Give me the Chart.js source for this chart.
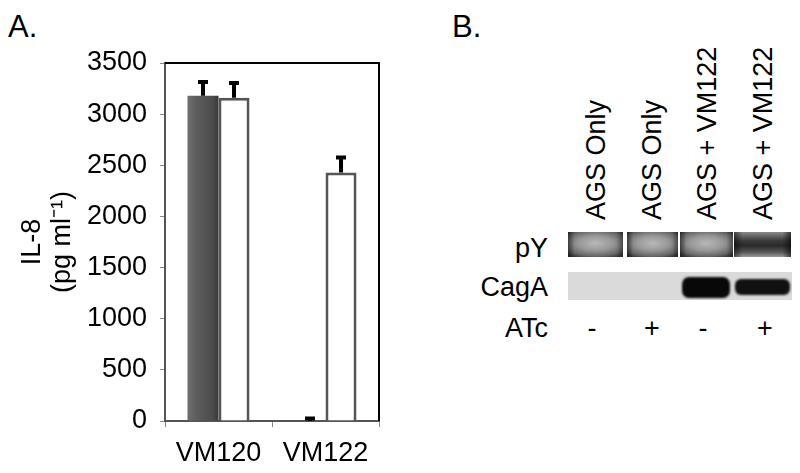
<!DOCTYPE html>
<html>
<head>
<meta charset="utf-8">
<script src="https://cdn.jsdelivr.net/npm/chart.js@4"></script>
<style>
  html, body { margin: 0; padding: 0; background: #fff; }
  body { width: 800px; height: 473px; position: relative; overflow: hidden;
         font-family: 'Liberation Sans', Arial, sans-serif; color: #000; }
  #wrapA { position: absolute; left: 0; top: 0; width: 400px; height: 473px; }
  .t { position: absolute; font-size: 27px; line-height: 30px; white-space: nowrap; }
  .panel { position: absolute; font-size: 31px; line-height: 31px; }
  .lane { position: absolute; font-size: 27px; line-height: 30px; white-space: nowrap;
          transform-origin: 0 0; }
  .blot { position: absolute; }
</style>
</head>
<body>
<div class="panel" style="left:8px; top:11px;">A.</div>
<div class="panel" style="left:452px; top:11px;">B.</div>
<div id="wrapA"><canvas id="il8Chart" width="400" height="473"></canvas></div>
<div id="panelB"></div>

<script>
// panel A data
const categories = ['VM120', 'VM122'];
const darkValues = [3180, 0];
const darkErrors = [135, 25];
const whiteValues = [3160, 2430];
const whiteErrors = [145, 145];
const yTicks = [0, 500, 1000, 1500, 2000, 2500, 3000, 3500];

// panel B labels
const laneLabels = ['AGS Only', 'AGS Only', 'AGS + VM122', 'AGS + VM122'];
const rowLabels = ['pY', 'CagA', 'ATc'];
const atcSigns = ['-', '+', '-', '+'];

const catPct = 0.58;
Chart.defaults.font.family = "'Liberation Sans', Arial, sans-serif";
Chart.defaults.color = '#000';

// 深色柱子的渐变
function darkFill(c) {
  const chart = c.chart;
  const xs = chart.scales.x;
  if (!xs || c.dataIndex === undefined) return '#555';
  const center = xs.getPixelForValue(c.dataIndex);
  const gw = (xs.width / categories.length) * catPct;
  if (!Number.isFinite(center) || !Number.isFinite(gw) || gw <= 0) return '#555';
  const g = chart.ctx.createLinearGradient(center - gw / 2, 0, center, 0);
  g.addColorStop(0, '#707070');
  g.addColorStop(0.3, '#5c5c5c');
  g.addColorStop(0.8, '#4c4c4c');
  g.addColorStop(1, '#383838');
  return g;
}

const errorBars = {
  id: 'errorBars',
  afterDatasetsDraw(chart) {
    const ctx = chart.ctx;
    const y = chart.scales.y;
    const errs = [darkErrors, whiteErrors];
    ctx.save();
    ctx.strokeStyle = '#000';
    ctx.lineWidth = 4;
    chart.data.datasets.forEach((ds, i) => {
      chart.getDatasetMeta(i).data.forEach((el, j) => {
        const top = y.getPixelForValue(ds.data[j] + errs[i][j]);
        const base = y.getPixelForValue(ds.data[j]);
        ctx.beginPath();
        ctx.moveTo(el.x, base);
        ctx.lineTo(el.x, top);
        ctx.moveTo(el.x - 5, top);
        ctx.lineTo(el.x + 5, top);
        ctx.stroke();
      });
    });
    ctx.restore();
  }
};

const frameBox = {
  id: 'frameBox',
  afterDraw(chart) {
    const {ctx, chartArea: a} = chart;
    ctx.save();
    ctx.strokeStyle = '#000';
    ctx.lineWidth = 2;
    ctx.beginPath();
    ctx.moveTo(a.left, a.top);
    ctx.lineTo(a.right, a.top);
    ctx.lineTo(a.right, a.bottom);
    ctx.stroke();
    ctx.restore();
  }
};

new Chart(document.getElementById('il8Chart').getContext('2d'), {
  type: 'bar',
  data: {
    labels: categories,
    datasets: [{
      data: darkValues,
      backgroundColor: darkFill,
      borderWidth: 0,
      categoryPercentage: catPct,
      barPercentage: 1
    }, {
      data: whiteValues,
      backgroundColor: '#fff',
      borderColor: '#555',
      borderWidth: 3,
      categoryPercentage: catPct,
      barPercentage: 1
    }]
  },
  options: {
    responsive: false,
    animation: false,
    layout: { padding: { top: 63, right: 21, left: 0, bottom: 0 } },
    plugins: { legend: { display: false }, tooltip: { enabled: false } },
    scales: {
      x: {
        grid: { drawOnChartArea: false, drawTicks: true, tickLength: 6, color: '#888', offset: true },
        border: { color: '#555', width: 2 },
        ticks: { font: { size: 27 }, padding: 10, color: '#000' },
        afterFit(s) { s.height = 52; }
      },
      y: {
        min: 0,
        max: 3500,
        afterBuildTicks(s) { s.ticks = yTicks.map(v => ({ value: v })); },
        grid: { drawOnChartArea: false, drawTicks: true, tickLength: 5, color: '#888' },
        border: { color: '#555', width: 2 },
        ticks: { font: { size: 27 }, padding: 13, color: '#000', callback: v => String(v) },
        title: {
          display: true,
          text: ['IL-8', '(pg ml\u207B\u00B9)'],
          font: { size: 27, lineHeight: 1.11 },
          padding: { top: 18, bottom: 0 },
          color: '#000'
        },
        afterFit(s) { s.width = 165; }
      }
    }
  },
  plugins: [errorBars, frameBox]
});

// panel B: 印迹图和标签
const pb = document.getElementById('panelB');
function add(html) { pb.insertAdjacentHTML('beforeend', html); }

const laneX = [596, 652, 707, 763];
laneLabels.forEach((t, i) => {
  add(`<div class="lane" style="left:${laneX[i]}px; top:220px; transform: translate(-15px,0) rotate(-90deg);">${t}</div>`);
});

const rowTops = [233, 272, 313];
rowLabels.forEach((t, i) => {
  add(`<div class="t" style="right:${800 - 548}px; top:${rowTops[i]}px; text-align:right;">${t}</div>`);
});
atcSigns.forEach((t, i) => {
  const cx = [592, 652, 703, 765][i];
  add(`<div class="t" style="left:${cx - 15}px; width:30px; text-align:center; top:313px;">${t}</div>`);
});

// pY lanes
const pyLanes = [[568, 623], [627, 678], [680, 733], [734, 791]];
pyLanes.forEach(([x0, x1], i) => {
  const bg = i === 3
    ? 'linear-gradient(to right, rgba(0,0,0,0.5), rgba(0,0,0,0) 15%, rgba(0,0,0,0) 85%, rgba(0,0,0,0.6)), linear-gradient(to bottom, #8a8a8a 0%, #3a3a3a 35%, #2a2a2a 55%, #555 80%, #9a9a9a 100%)'
    : 'linear-gradient(to right, rgba(0,0,0,0.45), rgba(0,0,0,0) 12%, rgba(0,0,0,0) 88%, rgba(0,0,0,0.35)), radial-gradient(ellipse 70% 65% at 50% 45%, #b8b8b8 0%, #989898 45%, #666 80%, #383838 100%)';
  add(`<div class="blot" style="left:${x0}px; top:232px; width:${x1 - x0}px; height:25px; background:${bg}; filter: blur(0.7px);"></div>`);
});

// CagA strip
add(`<div class="blot" style="left:568px; top:272px; width:224px; height:28px; background:#dadada;"></div>`);
add(`<div class="blot" style="left:682px; top:277px; width:48px; height:21px; background:#080808; border-radius:7px; filter: blur(1px);"></div>`);
add(`<div class="blot" style="left:735px; top:279px; width:55px; height:16px; background:#111; border-radius:6px; filter: blur(1px);"></div>`);
</script>
</body>
</html>
